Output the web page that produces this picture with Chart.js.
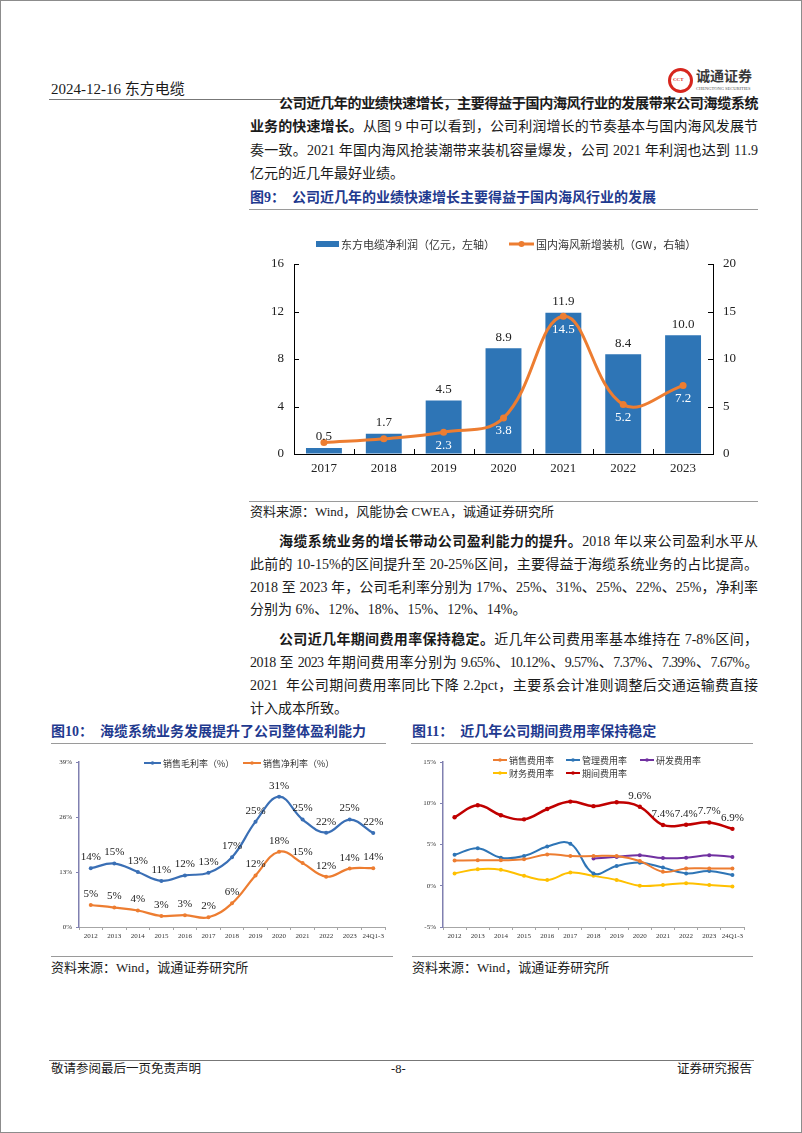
<!DOCTYPE html>
<html>
<head>
<meta charset="utf-8">
<script src="https://cdn.jsdelivr.net/npm/chart.js@4.4.1/dist/chart.umd.min.js"></script>
<style>
  html, body { margin: 0; padding: 0; background: #fff; }
  #page { position: relative; width: 800px; height: 1131px; border: 1px solid #8c8c8c; overflow: hidden;
          font-family: "Liberation Serif", "Noto Sans CJK SC", serif; color: #1a1a1a; }
  .abs { position: absolute; white-space: nowrap; }
  .ln { position: absolute; left: 249px; width: 508px; height: 18px; line-height: 18px; font-size: 14px;
        white-space: nowrap; text-align: justify; text-align-last: justify; }
  .ln.end { text-align-last: left; }
  .ln.ind { left: 278px; width: 479px; }
  .ln.tight { letter-spacing: -0.6px; }
  b { font-weight: 700; }
  .fig { position: absolute; font-size: 14px; font-weight: 700; color: #1f3a8f; line-height: 16px; white-space: nowrap; }
  .rule { position: absolute; height: 0; border-top: 1.5px solid #9a9a9a; }
  .src { position: absolute; font-size: 13px; line-height: 16px; color: #222; white-space: nowrap; }
  canvas { position: absolute; }
</style>
</head>
<body>
<div id="page">
  <!-- 页眉 -->
  <div class="abs" style="left:50px;top:80px;font-size:15px;line-height:16px;">2024-12-16 东方电缆</div>
  <div class="abs" style="left:667px;top:67px;width:25px;height:25px;border-radius:50%;border:3px solid #d7261e;box-sizing:border-box;"></div>
  <div class="abs" style="left:672px;top:76px;font-size:5px;line-height:6px;color:#d7261e;font-weight:700;">CCT</div>
  <div class="abs" style="left:695px;top:68px;font-size:14px;line-height:15px;font-weight:700;color:#3a3a3a;">诚通证券</div>
  <div class="abs" style="left:695px;top:85px;font-size:4.5px;line-height:5px;color:#555;">CHENGTONG SECURITIES</div>
  <div class="rule" style="left:48px;top:98px;width:705px;border-top:1px solid #777;"></div>

  <!-- 正文 1 -->
  <div class="ln ind tight" style="top:94px;"><b>公司近几年的业绩快速增长，主要得益于国内海风行业的发展带来公司海缆系统</b></div>
  <div class="ln" style="top:117px;"><b>业务的快速增长。</b>从图 9 中可以看到，公司利润增长的节奏基本与国内海风发展节</div>
  <div class="ln" style="top:141px;">奏一致。2021 年国内海风抢装潮带来装机容量爆发，公司 2021 年利润也达到 11.9</div>
  <div class="ln end" style="top:164px;">亿元的近几年最好业绩。</div>

  <div class="fig" style="left:249px;top:189px;">图9：&nbsp;&nbsp;公司近几年的业绩快速增长主要得益于国内海风行业的发展</div>
  <div class="rule" style="left:248px;top:208px;width:509px;"></div>
  <canvas id="c9" width="512" height="273" style="left:245px;top:225px;"></canvas>
  <div class="rule" style="left:248px;top:500px;width:509px;"></div>
  <div class="src" style="left:249px;top:503px;">资料来源：Wind，风能协会 CWEA，诚通证券研究所</div>

  <!-- 正文 2 -->
  <div class="ln ind" style="top:532px;"><b>海缆系统业务的增长带动公司盈利能力的提升。</b>2018 年以来公司盈利水平从</div>
  <div class="ln" style="top:555px;">此前的 10-15%的区间提升至 20-25%区间，主要得益于海缆系统业务的占比提高。</div>
  <div class="ln" style="top:578px;">2018 至 2023 年，公司毛利率分别为 17%、25%、31%、25%、22%、25%，净利率</div>
  <div class="ln end" style="top:600px;">分别为 6%、12%、18%、15%、12%、14%。</div>

  <div class="ln ind" style="top:630px;"><b>公司近几年期间费用率保持稳定。</b>近几年公司费用率基本维持在 7-8%区间，</div>
  <div class="ln tight" style="top:653px;">2018 至 2023 年期间费用率分别为 9.65%、10.12%、9.57%、7.37%、7.39%、7.67%。</div>
  <div class="ln" style="top:676px;">2021&nbsp; 年公司期间费用率同比下降 2.2pct，主要系会计准则调整后交通运输费直接</div>
  <div class="ln end" style="top:699px;">计入成本所致。</div>

  <!-- 图10 / 图11 -->
  <div class="fig" style="left:50px;top:723px;">图10：&nbsp;&nbsp;海缆系统业务发展提升了公司整体盈利能力</div>
  <div class="rule" style="left:50px;top:742px;width:335px;"></div>
  <div class="fig" style="left:411px;top:723px;">图11：&nbsp;&nbsp;近几年公司期间费用率保持稳定</div>
  <div class="rule" style="left:410px;top:742px;width:342px;"></div>

  <canvas id="c10" width="350" height="200" style="left:45px;top:748px;"></canvas>
  <canvas id="c11" width="350" height="200" style="left:405px;top:748px;"></canvas>

  <div class="rule" style="left:50px;top:955px;width:342px;"></div>
  <div class="src" style="left:50px;top:959px;">资料来源：Wind，诚通证券研究所</div>
  <div class="rule" style="left:411px;top:955px;width:341px;"></div>
  <div class="src" style="left:411px;top:959px;">资料来源：Wind，诚通证券研究所</div>

  <!-- 页脚 -->
  <div class="rule" style="left:48px;top:1059px;width:705px;border-top:1px solid #777;"></div>
  <div class="abs" style="left:50px;top:1061px;font-size:12.5px;line-height:14px;">敬请参阅最后一页免责声明</div>
  <div class="abs" style="left:390px;top:1061px;font-size:12.5px;line-height:14px;">-8-</div>
  <div class="abs" style="right:49px;top:1061px;font-size:12.5px;line-height:14px;">证券研究报告</div>
</div>

<script>
// 图9：东方电缆净利润 vs 国内海风新增装机
const years9 = ["2017", "2018", "2019", "2020", "2021", "2022", "2023"];
const netProfit = [0.5, 1.7, 4.5, 8.9, 11.9, 8.4, 10.0];       // 亿元，左轴
const offshoreGW = [1.2, 1.6, 2.3, 3.8, 14.5, 5.2, 7.2];       // GW，右轴
const gwLabelFrom = 2;                                         // 2017、2018 不标数值
const axis9Left = [0, 16, 4];
const axis9Right = [0, 20, 5];

// 图10：销售毛利率 / 销售净利率
const years = ["2012", "2013", "2014", "2015", "2016", "2017", "2018", "2019", "2020", "2021", "2022", "2023", "24Q1-3"];
const grossMargin = [13.9, 15.0, 13.0, 10.9, 12.2, 12.8, 16.5, 24.9, 30.8, 25.4, 22.3, 25.4, 22.2];
const netMargin = [5.2, 4.6, 3.9, 2.6, 2.8, 2.3, 5.6, 12.2, 17.8, 15.1, 11.9, 13.8, 13.9];
const axis10 = [0, 39, 13];

// 图11：各项费用率
const sellRate = [3.05, 3.1, 3.1, 3.2, 3.8, 3.6, 3.6, 3.6, 3.0, 1.7, 2.1, 2.1, 2.1];
const mgmtRate = [3.75, 4.55, 3.4, 3.6, 4.75, 5.1, 1.5, 2.4, 2.8, 2.2, 1.5, 1.8, 1.3];
const rdRate = [null, null, null, null, null, null, 3.3, 3.5, 3.7, 3.35, 3.4, 3.7, 3.5];
const finRate = [1.5, 2.0, 1.95, 1.2, 0.7, 1.6, 1.2, 0.7, 0.0, 0.1, 0.3, 0.1, -0.1];
const periodRate = [8.3, 9.75, 8.55, 8.05, 9.3, 10.2, 9.65, 10.12, 9.57, 7.37, 7.39, 7.67, 6.9];
const periodLabelFrom = 8;
const axis11 = [-5, 15, 5];

const SERIF = '"Liberation Serif", "Noto Sans CJK SC", serif';
const CJK = '"Noto Sans CJK SC", sans-serif';

// 数据标签
function valueLabels(specs) {
    return {
        id: "valueLabels",
        afterDatasetsDraw(chart) {
            const ctx = chart.ctx;
            specs.forEach(s => {
                const meta = chart.getDatasetMeta(s.ds);
                ctx.save();
                ctx.font = s.font;
                ctx.fillStyle = s.color;
                ctx.textAlign = "center";
                ctx.textBaseline = "middle";
                meta.data.forEach((el, i) => {
                    const t = s.texts[i];
                    if (t == null) return;
                    ctx.fillText(t, el.x + (s.dx || 0), el.y + s.dy);
                });
                ctx.restore();
            });
        }
    };
}

// 图例（画在图内固定位置）
function legendBox(items, font) {
    return {
        id: "legendBox",
        afterDraw(chart) {
            const ctx = chart.ctx;
            ctx.save();
            ctx.font = font;
            ctx.textBaseline = "middle";
            ctx.textAlign = "left";
            items.forEach(it => {
                const ds = chart.data.datasets[it.ds];
                const col = ds.borderColor;
                ctx.fillStyle = col;
                ctx.strokeStyle = col;
                if (it.kind === "bar") {
                    ctx.fillRect(it.x, it.y - 3, it.w, 6);
                } else {
                    ctx.lineWidth = it.lw || 2;
                    ctx.beginPath();
                    ctx.moveTo(it.x, it.y);
                    ctx.lineTo(it.x + it.w, it.y);
                    ctx.stroke();
                    ctx.beginPath();
                    ctx.arc(it.x + it.w / 2, it.y, it.r || 2, 0, Math.PI * 2);
                    ctx.fill();
                }
                ctx.fillStyle = "#333";
                ctx.fillText(ds.label, it.x + it.w + 2, it.y + 0.5);
            });
            ctx.restore();
        }
    };
}

// 图9 的内向刻度
const innerTicks9 = {
    id: "innerTicks9",
    afterDatasetsDraw(chart) {
        const { ctx, chartArea: a, scales } = chart;
        ctx.save();
        ctx.strokeStyle = "#000";
        ctx.lineWidth = 1;
        ctx.beginPath();
        scales.y.ticks.forEach(t => {
            const py = Math.round(scales.y.getPixelForValue(t.value)) + 0.5;
            ctx.moveTo(a.left, py); ctx.lineTo(a.left + 5, py);
        });
        scales.y1.ticks.forEach(t => {
            const py = Math.round(scales.y1.getPixelForValue(t.value)) + 0.5;
            ctx.moveTo(a.right - 5, py); ctx.lineTo(a.right, py);
        });
        for (let i = 1; i < years9.length; i++) {
            const px = Math.round((scales.x.getPixelForValue(i - 1) + scales.x.getPixelForValue(i)) / 2) + 0.5;
            ctx.moveTo(px, a.bottom); ctx.lineTo(px, a.bottom - 5);
        }
        ctx.stroke();
        ctx.restore();
    }
};

const base = {
    responsive: false,
    animation: false,
    events: [],
    plugins: { legend: { display: false }, tooltip: { enabled: false } }
};

new Chart(document.getElementById("c9"), {
    type: "bar",
    data: {
        labels: years9,
        datasets: [{
            type: "bar",
            label: "东方电缆净利润（亿元，左轴）",
            data: netProfit,
            backgroundColor: "#2e75b6",
            borderColor: "#2e75b6",
            borderWidth: 0,
            barPercentage: 0.6,
            categoryPercentage: 1,
            yAxisID: "y",
            order: 2
        }, {
            type: "line",
            label: "国内海风新增装机（GW，右轴）",
            data: offshoreGW,
            borderColor: "#ed7d31",
            backgroundColor: "#ed7d31",
            borderWidth: 3,
            tension: 0.4,
            pointRadius: 3.5,
            pointBackgroundColor: "#ed7d31",
            pointBorderWidth: 0,
            yAxisID: "y1",
            order: 1
        }]
    },
    options: {
        ...base,
        layout: { padding: { top: 38 } },
        scales: {
            x: {
                grid: { display: true, drawOnChartArea: false, drawTicks: false },
                border: { color: "#000", width: 1 },
                ticks: { color: "#222", font: { family: SERIF, size: 13 }, padding: 7 },
                afterFit(s) { s.height = 45; }
            },
            y: {
                position: "left",
                min: axis9Left[0], max: axis9Left[1],
                grid: { display: true, drawOnChartArea: false, drawTicks: false },
                border: { color: "#000", width: 1 },
                ticks: { stepSize: axis9Left[2], color: "#222", font: { family: SERIF, size: 13 }, padding: 10 },
                afterFit(s) { s.width = 48; }
            },
            y1: {
                position: "right",
                min: axis9Right[0], max: axis9Right[1],
                grid: { display: true, drawOnChartArea: false, drawTicks: false },
                border: { color: "#000", width: 1 },
                ticks: { stepSize: axis9Right[2], color: "#222", font: { family: SERIF, size: 13 }, padding: 10 },
                afterFit(s) { s.width = 45; }
            }
        }
    },
    plugins: [
        innerTicks9,
        valueLabels([
            { ds: 0, texts: netProfit.map(v => v.toFixed(1)), color: "#222", font: "13px " + SERIF, dy: -11 },
            { ds: 1, texts: offshoreGW.map((v, i) => i >= gwLabelFrom ? v.toFixed(1) : null), color: "#fff", font: "13px " + SERIF, dy: 13 }
        ]),
        legendBox([
            { ds: 0, kind: "bar", x: 70, y: 18, w: 23 },
            { ds: 1, kind: "line", x: 263, y: 18, w: 25, lw: 3, r: 3 }
        ], "11px " + CJK)
    ]
});

// 图10
new Chart(document.getElementById("c10"), {
    type: "line",
    data: {
        labels: years,
        datasets: [{
            label: "销售毛利率（%）",
            data: grossMargin,
            borderColor: "#3a6fb5",
            backgroundColor: "#3a6fb5",
            borderWidth: 2.2,
            tension: 0.4,
            pointRadius: 2,
            pointBorderWidth: 0
        }, {
            label: "销售净利率（%）",
            data: netMargin,
            borderColor: "#ed7d31",
            backgroundColor: "#ed7d31",
            borderWidth: 2.2,
            tension: 0.4,
            pointRadius: 2,
            pointBorderWidth: 0
        }]
    },
    options: {
        ...base,
        layout: { padding: { top: 13, right: 11 } },
        scales: {
            x: {
                offset: true,
                grid: { display: true, offset: true, drawOnChartArea: false, tickLength: 3, color: "#a6a6a6" },
                border: { color: "#a6a6a6", width: 1 },
                ticks: { autoSkip: false, maxRotation: 0, color: "#333", font: { family: SERIF, size: 7 }, padding: 2 },
                afterFit(s) { s.height = 22; }
            },
            y: {
                min: axis10[0], max: axis10[1],
                grid: { display: true, drawOnChartArea: false, tickLength: 3, color: "#8080b0" },
                border: { color: "#8080b0", width: 1.5 },
                ticks: { stepSize: axis10[2], color: "#333", font: { family: SERIF, size: 7 }, padding: 4,
                         callback: v => v + "%" },
                afterFit(s) { s.width = 33; }
            }
        }
    },
    plugins: [
        valueLabels([
            { ds: 0, texts: grossMargin.map(v => Math.round(v) + "%"), color: "#222", font: "11px " + SERIF, dy: -11 },
            { ds: 1, texts: netMargin.map(v => Math.round(v) + "%"), color: "#222", font: "11px " + SERIF, dy: -11 }
        ]),
        legendBox([
            { ds: 0, kind: "line", x: 98, y: 14, w: 17, lw: 2, r: 1.8 },
            { ds: 1, kind: "line", x: 197, y: 14, w: 18, lw: 2, r: 1.8 }
        ], "9px " + CJK)
    ]
});

// 图11
new Chart(document.getElementById("c11"), {
    type: "line",
    data: {
        labels: years,
        datasets: [{
            label: "销售费用率",
            data: sellRate,
            borderColor: "#ed7d31", backgroundColor: "#ed7d31",
            borderWidth: 2, tension: 0.4, pointRadius: 2, pointBorderWidth: 0
        }, {
            label: "管理费用率",
            data: mgmtRate,
            borderColor: "#2e75b6", backgroundColor: "#2e75b6",
            borderWidth: 2, tension: 0.4, pointRadius: 2, pointBorderWidth: 0
        }, {
            label: "研发费用率",
            data: rdRate,
            borderColor: "#7030a0", backgroundColor: "#7030a0",
            borderWidth: 2, tension: 0.4, pointRadius: 2, pointBorderWidth: 0
        }, {
            label: "财务费用率",
            data: finRate,
            borderColor: "#ffc000", backgroundColor: "#ffc000",
            borderWidth: 2, tension: 0.4, pointRadius: 2, pointBorderWidth: 0
        }, {
            label: "期间费用率",
            data: periodRate,
            borderColor: "#c00000", backgroundColor: "#c00000",
            borderWidth: 2.5, tension: 0.4, pointRadius: 2.2, pointBorderWidth: 0
        }]
    },
    options: {
        ...base,
        layout: { padding: { top: 13, right: 12 } },
        scales: {
            x: {
                offset: true,
                grid: { display: true, offset: true, drawOnChartArea: false, tickLength: 3, color: "#a6a6a6" },
                border: { color: "#a6a6a6", width: 1 },
                ticks: { autoSkip: false, maxRotation: 0, color: "#333", font: { family: SERIF, size: 7 }, padding: 2 },
                afterFit(s) { s.height = 22; }
            },
            y: {
                min: axis11[0], max: axis11[1],
                grid: { display: true, drawOnChartArea: false, tickLength: 3, color: "#8080b0" },
                border: { color: "#8080b0", width: 1.5 },
                ticks: { stepSize: axis11[2], color: "#333", font: { family: SERIF, size: 7 }, padding: 4,
                         callback: v => v + "%" },
                afterFit(s) { s.width = 37; }
            }
        }
    },
    plugins: [
        valueLabels([
            { ds: 4, texts: periodRate.map((v, i) => i >= periodLabelFrom ? v.toFixed(1) + "%" : null),
              color: "#222", font: "11px " + SERIF, dy: -11 }
        ]),
        legendBox([
            { ds: 0, kind: "line", x: 87, y: 11, w: 14, lw: 2, r: 1.8 },
            { ds: 1, kind: "line", x: 160, y: 11, w: 14, lw: 2, r: 1.8 },
            { ds: 2, kind: "line", x: 234, y: 11, w: 14, lw: 2, r: 1.8 },
            { ds: 3, kind: "line", x: 87, y: 24, w: 14, lw: 2, r: 1.8 },
            { ds: 4, kind: "line", x: 160, y: 24, w: 14, lw: 2, r: 1.8 }
        ], "9px " + CJK)
    ]
});
</script>
</body>
</html>
